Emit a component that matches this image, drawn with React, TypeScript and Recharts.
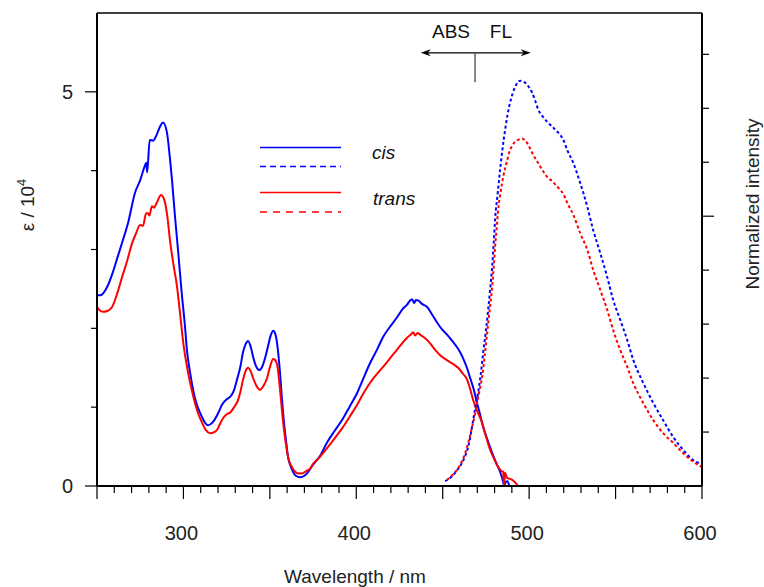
import React from 'react';
import { LineChart, Line, XAxis, YAxis, ReferenceLine, ReferenceDot, Label } from 'recharts';

// [wavelength nm, epsilon / 10^4]
const cisAbs: [number, number][] = [
  [250, 2.42], [252, 2.42], [256, 2.53], [259, 2.7], [262, 2.91], [265, 3.12], [268, 3.34], [272, 3.72], [275, 3.88],
  [277.5, 4.05], [278.5, 4.1], [279, 3.98], [280.5, 4.39], [282.5, 4.38], [284, 4.43], [286.5, 4.56], [288.2, 4.61],
  [290.5, 4.48], [292, 4.2], [293.4, 3.88], [295, 3.45], [297, 2.96], [299, 2.45], [301, 2.0], [302, 1.73], [304, 1.42],
  [305.6, 1.22], [307.5, 1.05], [309.6, 0.93], [312, 0.82], [314.2, 0.77], [317, 0.81], [320, 0.92], [322.3, 1.03],
  [325, 1.1], [327, 1.13], [329, 1.2], [331, 1.35], [333, 1.52], [334.5, 1.7], [336, 1.8], [337.4, 1.84], [339, 1.76],
  [340.3, 1.64], [342, 1.52], [343.8, 1.47], [345.5, 1.51], [347.2, 1.62], [349, 1.78], [350.5, 1.91], [352, 1.97],
  [353, 1.94], [354.2, 1.81], [355.9, 1.43], [357, 1.1], [358.2, 0.8], [359.5, 0.55], [360.5, 0.37], [362, 0.25],
  [363.4, 0.18], [365, 0.13], [367.5, 0.11], [370, 0.13], [371.5, 0.16], [375, 0.27], [379, 0.38], [383, 0.55],
  [387.5, 0.7], [392.4, 0.86], [396, 1.0], [400.5, 1.18], [404, 1.36], [408, 1.56], [412, 1.73], [415.5, 1.89],
  [419.5, 2.02], [423.6, 2.14], [427, 2.25], [429.4, 2.3], [431, 2.35], [432.3, 2.37], [433.5, 2.32], [434.5, 2.36],
  [436, 2.35], [438, 2.31], [441, 2.27], [444, 2.17], [446.8, 2.07], [449.5, 1.99], [452.5, 1.92], [455.5, 1.84],
  [458.3, 1.76], [460, 1.7], [461.8, 1.62], [464, 1.5], [465.9, 1.37], [468, 1.22], [469.9, 1.05], [471.7, 0.9],
  [473.4, 0.75], [476, 0.58], [478.6, 0.42], [481, 0.29], [483.2, 0.18], [485, 0.05], [485.5, 0.0], [486.5, 0.05],
  [487.5, 0.06], [488.5, 0.0],
];

const transAbs: [number, number][] = [
  [250, 2.27], [251.5, 2.23], [253.5, 2.21], [256, 2.22], [258.7, 2.27], [261.5, 2.43], [264.5, 2.65], [267.5, 2.86],
  [270.3, 3.08], [272.5, 3.2], [274.9, 3.31], [276.6, 3.3], [278.4, 3.46], [279.5, 3.46], [280.3, 3.43], [281.8, 3.55],
  [282.9, 3.53], [284.7, 3.6], [287, 3.69], [288.2, 3.67], [289.4, 3.59], [290.8, 3.4], [292.2, 3.12], [294.3, 2.8],
  [296.3, 2.53], [298, 2.2], [300, 1.8], [302.1, 1.51], [304.5, 1.25], [306.7, 1.05], [308.7, 0.91], [310.8, 0.8],
  [313, 0.71], [315.4, 0.67], [317.5, 0.68], [319.4, 0.71], [321, 0.78], [322.9, 0.86], [325, 0.91], [327, 0.93],
  [329.3, 1.0], [331.6, 1.09], [333, 1.2], [334.5, 1.35], [336, 1.46], [337.4, 1.5], [339, 1.45], [340.3, 1.37],
  [342.3, 1.27], [344.3, 1.22], [346.3, 1.27], [348.4, 1.37], [350.2, 1.52], [351.9, 1.61], [353, 1.6], [354.2, 1.54],
  [355.9, 1.22], [357, 0.96], [358.2, 0.71], [359.5, 0.5], [360.5, 0.37], [362.5, 0.25], [364.6, 0.18], [366.5, 0.16],
  [368.6, 0.16], [371, 0.19], [373.3, 0.22], [375, 0.28], [379, 0.37], [383.1, 0.48], [388, 0.62], [392.4, 0.75],
  [396.5, 0.89], [400.5, 1.03], [404, 1.17], [408, 1.31], [411.5, 1.41], [415.5, 1.51], [419.5, 1.62], [423.6, 1.73],
  [426.5, 1.81], [429.4, 1.88], [431.5, 1.92], [432.9, 1.95], [434, 1.91], [435.5, 1.94], [436.9, 1.92], [439.5, 1.88],
  [442.7, 1.81], [445.5, 1.73], [448.5, 1.66], [451.5, 1.61], [454.3, 1.57], [456.5, 1.54], [458.9, 1.5], [461.5, 1.43],
  [464.1, 1.35], [466, 1.22], [467.6, 1.09], [470, 0.95], [472.8, 0.8], [475, 0.63], [477.4, 0.46], [479.8, 0.34],
  [482.1, 0.24], [484, 0.19], [485, 0.18], [485.5, 0.0], [486, 0.17], [487.3, 0.1], [489, 0.09], [490.7, 0.07],
  [492.5, 0.03], [493.6, 0.0],
];

// [wavelength nm, normalized intensity (right axis units)]
const cisFl: [number, number][] = [
  [451.4, 0.09], [454, 0.14], [456, 0.2], [458.5, 0.3], [461.2, 0.43], [463, 0.56], [464.7, 0.72], [466.2, 0.95],
  [467.6, 1.22], [469, 1.47], [470.5, 1.73], [472, 2.07], [473.4, 2.47], [475, 2.88], [476.3, 3.27], [477.5, 3.67],
  [478.6, 4.06], [479.5, 4.5], [480.3, 4.94], [481.8, 5.42], [483.2, 5.86], [484.6, 6.25], [486.1, 6.6], [487.5, 6.88],
  [489, 7.11], [490.5, 7.28], [491.9, 7.4], [493.4, 7.48], [494.8, 7.51], [496.8, 7.49], [498.8, 7.44], [500.3, 7.37],
  [501.7, 7.29], [503.5, 7.14], [505.2, 6.98], [507.8, 6.85], [510.4, 6.75], [513.3, 6.66], [516.2, 6.57], [519.7, 6.42],
  [522, 6.23], [525.5, 5.99], [529.5, 5.62], [533.6, 5.18], [537, 4.75], [541.1, 4.32], [545.1, 3.88], [548.6, 3.45],
  [552.7, 3.08], [556.7, 2.71], [560.2, 2.34], [566, 1.91], [571.8, 1.54], [577.5, 1.22], [583.3, 0.91], [589.1, 0.67],
  [594.9, 0.48], [600, 0.41],
];

const transFl: [number, number][] = [
  [452.5, 0.11], [455.5, 0.2], [458.3, 0.3], [461, 0.45], [463, 0.61], [465, 0.83], [467, 1.09], [468.5, 1.3],
  [469.9, 1.54], [471.3, 1.77], [472.8, 2.02], [474.3, 2.42], [475.7, 2.84], [477.2, 3.27], [478.6, 3.69], [479.5, 4.05],
  [480.3, 4.43], [481.2, 4.78], [482.1, 5.12], [483.5, 5.45], [485, 5.73], [487, 6.0], [489, 6.23], [490.5, 6.32],
  [491.9, 6.38], [494, 6.42], [495.9, 6.44], [497.5, 6.41], [498.8, 6.36], [500.5, 6.26], [502.3, 6.14], [504.4, 6.03],
  [506.4, 5.92], [508.4, 5.82], [510.4, 5.73], [513.3, 5.65], [516.2, 5.55], [517.9, 5.49], [520, 5.4], [522, 5.25],
  [525.5, 5.03], [529.5, 4.69], [533.6, 4.38], [537, 4.01], [541.1, 3.64], [545.1, 3.27], [548.6, 2.89], [552.7, 2.52],
  [556.7, 2.21], [560.2, 1.91], [566, 1.54], [571.8, 1.22], [577.5, 0.98], [583.3, 0.8], [589.1, 0.61], [594.9, 0.45],
  [600, 0.35],
];

const xTicks = [250, 260, 270, 280, 290, 300, 310, 320, 330, 340, 350, 360, 370, 380, 390, 400, 410, 420, 430, 440, 450,
  460, 470, 480, 490, 500, 510, 520, 530, 540, 550, 560, 570, 580, 590, 600];
const xLabelled = [300, 400, 500, 600];
const leftTicks = [0, 1, 2, 3, 4, 5];
const leftLabelled = [0, 5];
const rightTicks = [1, 2, 3, 4, 5, 6, 7, 8];
const rightMajor = [5];

const FONT = '"Liberation Sans", Arial, Helvetica, sans-serif';
const BLUE = '#0000ff';
const RED = '#ff0000';

const toRows = (arr: [number, number][]) => arr.map(([nm, v]) => ({ nm, v }));

const XTick = (p: any) => {
  const { x, y, payload } = p;
  const v = payload.value;
  const major = v % 50 === 0;
  return (
    <g>
      <line x1={x} y1={y} x2={x} y2={y + (major ? 13 : 7)} stroke="#000" strokeWidth={1.2} />
      {xLabelled.includes(v) && (
        <text x={x - 2} y={y + 54} textAnchor="middle" fontFamily={FONT} fontSize={20} fill="#222">{v}</text>
      )}
    </g>
  );
};

const LTick = (p: any) => {
  const { x, y, payload } = p;
  const v = payload.value;
  const major = leftLabelled.includes(v);
  return (
    <g>
      <line x1={x - (major ? 12 : 6)} y1={y} x2={x} y2={y} stroke="#000" strokeWidth={1.2} />
      {major && (
        <text x={x - 24} y={y + 7} textAnchor="end" fontFamily={FONT} fontSize={20} fill="#222">{v}</text>
      )}
    </g>
  );
};

const RTick = (p: any) => {
  const { x, y, payload } = p;
  const v = payload.value;
  const major = rightMajor.includes(v);
  return <line x1={x} y1={y} x2={x + (major ? 12 : 7)} y2={y} stroke="#000" strokeWidth={1.2} />;
};

const ArrowShape = (p: any) => {
  const { x1, y1, x2, y2 } = p;
  const h = 10;
  const w = 3.5;
  return (
    <g>
      <line x1={x1 + 4} y1={y1} x2={x2 - 4} y2={y2} stroke="#000" strokeWidth={1.3} />
      <path d={`M${x1},${y1} L${x1 + h},${y1 - w} L${x1 + h - 3},${y1} L${x1 + h},${y1 + w} Z`} fill="#000" />
      <path d={`M${x2},${y2} L${x2 - h},${y2 - w} L${x2 - h + 3},${y2} L${x2 - h},${y2 + w} Z`} fill="#000" />
    </g>
  );
};

const StemShape = (p: any) => {
  const { x1, y1, x2, y2 } = p;
  return <line x1={x1} y1={y1} x2={x2} y2={y2} stroke="#555" strokeWidth={1.4} />;
};

const textDot = (label: string) => (p: any) => (
  <text x={p.cx} y={p.cy} textAnchor="middle" fontFamily={FONT} fontSize={19} fill="#111">{label}</text>
);

export default function App() {
  return (
    <div style={{ position: 'absolute', left: 0, top: 0, width: 764, height: 587, background: '#fff' }}>
      <LineChart width={764} height={587} margin={{ top: 13, right: 0, bottom: 0, left: 0 }}>
        <XAxis
          dataKey="nm"
          type="number"
          domain={[250, 600]}
          ticks={xTicks}
          interval={0}
          allowDataOverflow
          height={101}
          tickSize={0}
          tickMargin={0}
          tickLine={false}
          axisLine={{ stroke: '#000', strokeWidth: 2 }}
          tick={<XTick />}
        >
          <Label
            content={() => (
              <text x={355} y={583} textAnchor="middle" fontFamily={FONT} fontSize={19} fill="#222">Wavelength / nm</text>
            )}
          />
        </XAxis>
        <YAxis
          yAxisId="l"
          type="number"
          domain={[0, 6]}
          ticks={leftTicks}
          interval={0}
          allowDataOverflow
          width={97}
          tickSize={0}
          tickMargin={0}
          tickLine={false}
          axisLine={{ stroke: '#000', strokeWidth: 2 }}
          tick={<LTick />}
        >
          <Label
            content={() => (
              <text x={34} y={205} transform="rotate(-90 34 205)" textAnchor="middle" fontFamily={FONT} fontSize={19} fill="#222">
                ε / 10<tspan dy={-8} fontSize={13}>4</tspan>
              </text>
            )}
          />
        </YAxis>
        <YAxis
          yAxisId="r"
          orientation="right"
          type="number"
          domain={[0, 8.766]}
          ticks={rightTicks}
          interval={0}
          allowDataOverflow
          width={62}
          tickSize={0}
          tickMargin={0}
          tickLine={false}
          axisLine={{ stroke: '#000', strokeWidth: 2 }}
          tick={<RTick />}
        >
          <Label
            content={() => (
              <text x={759} y={204} transform="rotate(-90 759 204)" textAnchor="middle" fontFamily={FONT} fontSize={19} fill="#222">
                Normalized intensity
              </text>
            )}
          />
        </YAxis>

        <ReferenceLine yAxisId="l" y={6} stroke="#000" strokeWidth={1.5} ifOverflow="visible" />

        <Line yAxisId="l" data={toRows(cisAbs)} dataKey="v" type="monotone" stroke={BLUE} strokeWidth={2} dot={false} activeDot={false} isAnimationActive={false} />
        <Line yAxisId="l" data={toRows(transAbs)} dataKey="v" type="monotone" stroke={RED} strokeWidth={2} dot={false} activeDot={false} isAnimationActive={false} />
        <Line yAxisId="r" data={toRows(cisFl)} dataKey="v" type="monotone" stroke={BLUE} strokeWidth={2} strokeDasharray="3 2.5" dot={false} activeDot={false} isAnimationActive={false} />
        <Line yAxisId="r" data={toRows(transFl)} dataKey="v" type="monotone" stroke={RED} strokeWidth={2} strokeDasharray="3 2.5" dot={false} activeDot={false} isAnimationActive={false} />

        <ReferenceLine yAxisId="l" segment={[{ x: 437.3, y: 5.495 }, { x: 500.9, y: 5.495 }]} shape={<ArrowShape />} ifOverflow="visible" />
        <ReferenceLine yAxisId="l" segment={[{ x: 468.7, y: 5.495 }, { x: 468.7, y: 5.121 }]} shape={<StemShape />} ifOverflow="visible" />
        <ReferenceDot yAxisId="l" x={454.8} y={5.685} r={0} shape={textDot('ABS')} ifOverflow="visible" />
        <ReferenceDot yAxisId="l" x={483.7} y={5.685} r={0} shape={textDot('FL')} ifOverflow="visible" />
      </LineChart>
      <svg width={764} height={587} style={{ position: 'absolute', left: 0, top: 0, pointerEvents: 'none' }}>
        <line x1={260} x2={341} y1={147.5} y2={147.5} stroke={BLUE} strokeWidth={1.3} />
        <line x1={260} x2={341} y1={166.5} y2={166.5} stroke={BLUE} strokeWidth={1.3} strokeDasharray="6 4" />
        <text x={372} y={159} fontFamily={FONT} fontStyle="italic" fontSize={19} fill="#111">cis</text>
        <line x1={260} x2={341} y1={192.5} y2={192.5} stroke={RED} strokeWidth={1.3} />
        <line x1={260} x2={341} y1={212} y2={212} stroke={RED} strokeWidth={1.3} strokeDasharray="7 6" />
        <text x={373} y={205} fontFamily={FONT} fontStyle="italic" fontSize={19} fill="#111">trans</text>
      </svg>
    </div>
  );
}
